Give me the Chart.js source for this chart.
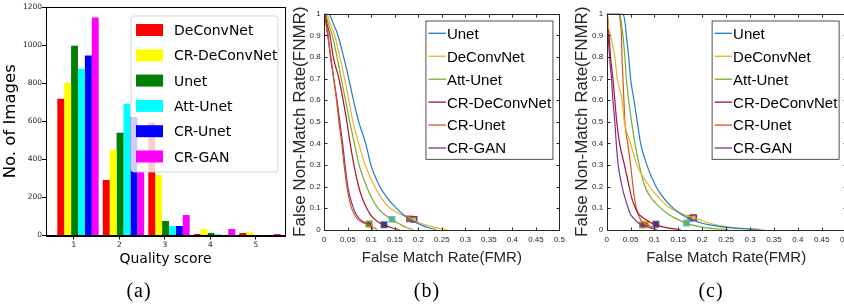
<!DOCTYPE html>
<html>
<head>
<meta charset="utf-8">
<script src="https://cdn.jsdelivr.net/npm/chart.js@4.4.1/dist/chart.umd.min.js"></script>
<style>
  html, body { margin: 0; padding: 0; background: #fff; width: 844px; height: 306px; overflow: hidden; }
  canvas { position: absolute; top: 0; }
  #hist { left: 0; }
  #detB { left: 290px; }
  #detC { left: 570px; }
  .cap { position: absolute; top: 279px; line-height: 20px; font: 20px 'Liberation Serif', serif; transform: translateX(-50%); letter-spacing: 1px; }
</style>
</head>
<body>
<canvas id="hist" width="290" height="306"></canvas>
<canvas id="detB" width="280" height="306"></canvas>
<canvas id="detC" width="290" height="306"></canvas>
<div class="cap" style="left:139px">(a)</div>
<div class="cap" style="left:427px">(b)</div>
<div class="cap" style="left:711px">(c)</div>
<script>
// (a) histogram of quality scores
const QUALITY_SCORES = [1, 2, 3, 4, 5]
const DECONVNET_COUNTS = [718, 292, 593, 8, 13]
const CR_DECONVNET_COUNTS = [802, 450, 318, 34, 18]
const UNET_COUNTS = [997, 539, 76, 13, 2]
const ATT_UNET_COUNTS = [876, 692, 50, 7, 1]
const CR_UNET_COUNTS = [945, 622, 50, 3, 3]
const CR_GAN_COUNTS = [1145, 335, 108, 34, 8]

// (b), (c) DET curves: FMR sampled at shared FNMR levels
const FNMR_LEVELS = [1, 1, 0.95, 0.9, 0.8, 0.7, 0.6, 0.5, 0.4, 0.3, 0.2, 0.15, 0.1, 0.07, 0.05, 0.03, 0.02, 0.01, 0]

const UNET_FMR_B = [0, 0.008, 0.02, 0.029, 0.041, 0.052, 0.062, 0.073, 0.088, 0.099, 0.118, 0.133, 0.153, 0.168, 0.181, 0.198, 0.208, 0.22, 0.238]
const DECONVNET_FMR_B = [0, 0.004, 0.013, 0.022, 0.033, 0.043, 0.052, 0.061, 0.073, 0.087, 0.107, 0.12, 0.14, 0.163, 0.186, 0.205, 0.218, 0.236, 0.262]
const ATT_UNET_FMR_B = [0, 0.002, 0.009, 0.017, 0.027, 0.036, 0.045, 0.054, 0.064, 0.074, 0.09, 0.1, 0.114, 0.128, 0.142, 0.157, 0.165, 0.175, 0.19]
const CR_DECONVNET_FMR_B = [0, 0.001, 0.006, 0.012, 0.019, 0.031, 0.04, 0.048, 0.055, 0.063, 0.073, 0.08, 0.09, 0.098, 0.106, 0.119, 0.13, 0.142, 0.16]
const CR_UNET_FMR_B = [0, 0.001, 0.004, 0.007, 0.014, 0.02, 0.026, 0.031, 0.037, 0.042, 0.048, 0.052, 0.058, 0.064, 0.07, 0.085, 0.096, 0.104, 0.113]
const CR_GAN_FMR_B = [0, 0.001, 0.004, 0.008, 0.013, 0.02, 0.027, 0.033, 0.039, 0.044, 0.05, 0.055, 0.062, 0.068, 0.075, 0.088, 0.097, 0.1, 0.103]

const UNET_FMR_C = [0, 0.033, 0.039, 0.041, 0.046, 0.05, 0.057, 0.064, 0.071, 0.084, 0.103, 0.118, 0.139, 0.157, 0.174, 0.2, 0.222, 0.255, 0.32]
const DECONVNET_FMR_C = [0, 0.001, 0.003, 0.008, 0.017, 0.022, 0.032, 0.037, 0.05, 0.063, 0.09, 0.108, 0.133, 0.162, 0.19, 0.215, 0.235, 0.265, 0.33]
const ATT_UNET_FMR_C = [0, 0.027, 0.031, 0.034, 0.038, 0.041, 0.046, 0.052, 0.059, 0.068, 0.08, 0.092, 0.113, 0.13, 0.146, 0.167, 0.182, 0.205, 0.255]
const CR_DECONVNET_FMR_C = [0, 0.001, 0.003, 0.005, 0.008, 0.013, 0.017, 0.021, 0.027, 0.037, 0.047, 0.052, 0.06, 0.068, 0.08, 0.095, 0.107, 0.125, 0.155]
const CR_UNET_FMR_C = [0, 0.026, 0.029, 0.031, 0.032, 0.034, 0.036, 0.038, 0.044, 0.05, 0.055, 0.058, 0.062, 0.066, 0.07, 0.077, 0.088, 0.095, 0.105]
const CR_GAN_FMR_C = [0, 0.001, 0.002, 0.003, 0.006, 0.01, 0.013, 0.017, 0.02, 0.024, 0.032, 0.038, 0.045, 0.05, 0.058, 0.067, 0.078, 0.088, 0.105]

// operating points (square markers), order: Unet, DeConvNet, Att-Unet, CR-DeConvNet, CR-Unet, CR-GAN
const MARKER_FMR_B = [0.181, 0.191, 0.144, 0.127, 0.096, 0.095]
const MARKER_FNMR_B = [0.05, 0.048, 0.048, 0.023, 0.027, 0.026]
const MARKER_FMR_C = [0.176, 0.182, 0.167, 0.103, 0.082, 0.075]
const MARKER_FNMR_C = [0.053, 0.056, 0.031, 0.025, 0.025, 0.022]

const HIST_SERIES = [
  { label: 'DeConvNet', counts: DECONVNET_COUNTS, color: '#ff0000' },
  { label: 'CR-DeConvNet', counts: CR_DECONVNET_COUNTS, color: '#ffff00' },
  { label: 'Unet', counts: UNET_COUNTS, color: '#008000' },
  { label: 'Att-Unet', counts: ATT_UNET_COUNTS, color: '#00ffff' },
  { label: 'CR-Unet', counts: CR_UNET_COUNTS, color: '#0000ff' },
  { label: 'CR-GAN', counts: CR_GAN_COUNTS, color: '#ff00ff' },
]

const DET_LABELS = ['Unet', 'DeConvNet', 'Att-Unet', 'CR-DeConvNet', 'CR-Unet', 'CR-GAN']
const DET_COLORS = ['#1f7cc8', '#EDB120', '#77AC30', '#A2142F', '#D95319', '#7E2F8E']
const MARKER_EDGES = ['#D95319', '#7E2F8E', '#4DBEEE', '#0072BD', '#EDB120', '#77AC30']

const crisp = (v) => Math.round(v) + 0.5

// matplotlib-style top/right spines
const spines = {
  id: 'spines',
  afterDraw(chart) {
    const { ctx, chartArea: { left, right, top, bottom } } = chart
    ctx.save()
    ctx.strokeStyle = '#000'
    ctx.lineWidth = 1
    ctx.strokeRect(crisp(left), crisp(top), Math.round(right) - Math.round(left), Math.round(bottom) - Math.round(top))
    ctx.restore()
  },
}

const histLegend = {
  id: 'histLegend',
  afterDatasetsDraw(chart) {
    const { ctx, chartArea } = chart
    const w = 147
    const h = 156
    const x0 = chartArea.right - 7 - w
    const y0 = chartArea.top + 9
    ctx.save()
    ctx.beginPath()
    ctx.roundRect(x0, y0, w, h, 3)
    ctx.fillStyle = 'rgba(255,255,255,0.8)'
    ctx.fill()
    ctx.strokeStyle = 'rgba(204,204,204,0.8)'
    ctx.lineWidth = 1
    ctx.stroke()
    ctx.font = '14px "DejaVu Sans"'
    ctx.textBaseline = 'alphabetic'
    chart.data.datasets.forEach((ds, i) => {
      const cy = y0 + 14 + i * 25.3
      ctx.fillStyle = ds.backgroundColor
      ctx.fillRect(x0 + 5, cy - 6, 27, 12)
      ctx.fillStyle = '#000'
      ctx.fillText(ds.label, x0 + 43, cy + 5.1)
    })
    ctx.restore()
  },
}

// MATLAB-style box with inward ticks on all four sides
const matlabBox = {
  id: 'matlabBox',
  afterDraw(chart) {
    const { ctx, chartArea: { left, right, top, bottom }, scales: { x, y } } = chart
    const L = crisp(left)
    const R = crisp(right)
    const T = crisp(top)
    const B = crisp(bottom)
    ctx.save()
    ctx.strokeStyle = '#262626'
    ctx.lineWidth = 1
    ctx.beginPath()
    x.ticks.forEach((t) => {
      const px = crisp(x.getPixelForValue(t.value))
      ctx.moveTo(px, B)
      ctx.lineTo(px, B - 3)
      ctx.moveTo(px, T)
      ctx.lineTo(px, T + 3)
    })
    y.ticks.forEach((t) => {
      const py = crisp(y.getPixelForValue(t.value))
      ctx.moveTo(L, py)
      ctx.lineTo(L + 3, py)
      ctx.moveTo(R, py)
      ctx.lineTo(R - 3, py)
    })
    ctx.stroke()
    ctx.strokeRect(L, T, R - L, B - T)
    ctx.restore()
  },
}

const detLegend = {
  id: 'detLegend',
  afterDraw(chart) {
    const { ctx, chartArea } = chart
    const w = 127
    const h = 138.3
    const x0 = chartArea.right - 6.5 - w
    const y0 = chartArea.top + 7.3
    ctx.save()
    ctx.fillStyle = '#fff'
    ctx.fillRect(x0, y0, w, h)
    ctx.strokeStyle = '#262626'
    ctx.lineWidth = 0.8
    ctx.strokeRect(x0, y0, w, h)
    ctx.font = '15px "Liberation Sans"'
    ctx.textBaseline = 'alphabetic'
    chart.data.datasets.filter((ds) => !ds.isMarker).forEach((ds, i) => {
      const cy = y0 + 12.3 + i * 22.94
      ctx.strokeStyle = ds.borderColor
      ctx.lineWidth = 1.3
      ctx.beginPath()
      ctx.moveTo(x0 + 2.5, cy)
      ctx.lineTo(x0 + 20, cy)
      ctx.stroke()
      ctx.fillStyle = '#000'
      ctx.fillText(ds.label, x0 + 21, cy + 5.4)
    })
    ctx.restore()
  },
}

new Chart(document.getElementById('hist'), {
  type: 'bar',
  data: {
    datasets: HIST_SERIES.map((s) => ({
      label: s.label,
      data: QUALITY_SCORES.map((q, i) => ({ x: q, y: s.counts[i] })),
      backgroundColor: s.color,
      borderWidth: 0,
      categoryPercentage: 0.91,
      barPercentage: 1,
    })),
  },
  options: {
    responsive: false,
    animation: false,
    layout: { padding: { top: 7, right: 5, left: 0, bottom: 0 } },
    plugins: { legend: { display: false }, tooltip: { enabled: false } },
    scales: {
      x: {
        type: 'linear',
        offset: false,
        min: 0.297,
        max: 5.55,
        afterBuildTicks: (scale) => {
          scale.ticks = QUALITY_SCORES.map((q) => ({ value: q - 0.088 }))
        },
        afterFit: (scale) => {
          scale.height = 70.5
        },
        ticks: {
          callback: (value, index) => QUALITY_SCORES[index],
          font: { family: 'DejaVu Sans', size: 7.5 },
          color: '#222',
          padding: 1,
          maxRotation: 0,
          autoSkip: false,
        },
        grid: { offset: false, drawOnChartArea: false, tickLength: 4, color: '#000' },
        border: { color: '#000' },
        title: {
          display: true,
          text: 'Quality score',
          font: { family: 'DejaVu Sans', size: 14 },
          color: '#000',
          padding: { top: 0, bottom: 38.2 },
        },
      },
      y: {
        min: 0,
        max: 1200,
        afterFit: (scale) => {
          scale.width = 46
        },
        ticks: {
          stepSize: 200,
          callback: (value) => String(value),
          font: { family: 'DejaVu Sans', size: 7.5 },
          color: '#222',
          padding: 0,
        },
        grid: { drawOnChartArea: false, tickLength: 4, color: '#000' },
        border: { color: '#000' },
        title: {
          display: true,
          text: 'No. of Images',
          font: { family: 'DejaVu Sans', size: 16.5, lineHeight: 1 },
          color: '#000',
          padding: { top: 2.7, bottom: 0 },
        },
      },
    },
  },
  plugins: [histLegend, spines],
})

const fmtTick = (v) => String(+v.toFixed(2))

const buildDetChart = (canvasId, fmrSeries, markerFmr, markerFnmr, pad) => {
  const curves = fmrSeries.map((fmr, i) => ({
    label: DET_LABELS[i],
    data: fmr.map((f, k) => ({ x: f, y: FNMR_LEVELS[k] })),
    borderColor: DET_COLORS[i],
    borderWidth: 1.2,
    pointRadius: 0,
    cubicInterpolationMode: 'monotone',
    fill: false,
  }))
  const markers = {
    label: 'markers',
    isMarker: true,
    data: markerFmr.map((f, i) => ({ x: f, y: markerFnmr[i] })),
    showLine: false,
    pointStyle: 'rect',
    pointRadius: 3.8,
    pointBorderWidth: 1.5,
    pointBackgroundColor: DET_COLORS,
    pointBorderColor: MARKER_EDGES,
  }
  return new Chart(document.getElementById(canvasId), {
    type: 'line',
    data: { datasets: [...curves, markers] },
    options: {
      responsive: false,
      animation: false,
      layout: { padding: { top: 13.7, right: pad.right, left: 0, bottom: 0 } },
      plugins: { legend: { display: false }, tooltip: { enabled: false } },
      scales: {
        x: {
          type: 'linear',
          min: 0,
          max: 0.5,
          afterFit: (scale) => {
            scale.height = 76.3
          },
          ticks: {
            stepSize: 0.05,
            callback: fmtTick,
            font: { family: 'Liberation Sans', size: 8 },
            color: '#262626',
            padding: 5,
            maxRotation: 0,
            autoSkip: false,
          },
          grid: { display: false, drawTicks: false },
          border: { display: false },
          title: {
            display: true,
            text: 'False Match Rate(FMR)',
            font: { family: 'Liberation Sans', size: 15 },
            color: '#262626',
            padding: { top: 0, bottom: 39.2 },
          },
        },
        y: {
          min: 0,
          max: 1,
          afterFit: (scale) => {
            scale.width = pad.left
          },
          ticks: {
            stepSize: 0.1,
            callback: fmtTick,
            font: { family: 'Liberation Sans', size: 8 },
            color: '#262626',
            padding: 3.6,
          },
          grid: { display: false, drawTicks: false },
          border: { display: false },
          title: {
            display: true,
            text: 'False Non-Match Rate(FNMR)',
            font: { family: 'Liberation Sans', size: 17, lineHeight: 1 },
            color: '#262626',
            padding: { top: pad.title, bottom: 0 },
          },
        },
      },
    },
    plugins: [matlabBox, detLegend],
  })
}

buildDetChart(
  'detB',
  [UNET_FMR_B, DECONVNET_FMR_B, ATT_UNET_FMR_B, CR_DECONVNET_FMR_B, CR_UNET_FMR_B, CR_GAN_FMR_B],
  MARKER_FMR_B,
  MARKER_FNMR_B,
  { left: 34.3, right: 6, title: 2.3 },
)

buildDetChart(
  'detC',
  [UNET_FMR_C, DECONVNET_FMR_C, ATT_UNET_FMR_C, CR_DECONVNET_FMR_C, CR_UNET_FMR_C, CR_GAN_FMR_C],
  MARKER_FMR_C,
  MARKER_FNMR_C,
  { left: 36.7, right: 14.4, title: 3.8 },
)
</script>
</body>
</html>
